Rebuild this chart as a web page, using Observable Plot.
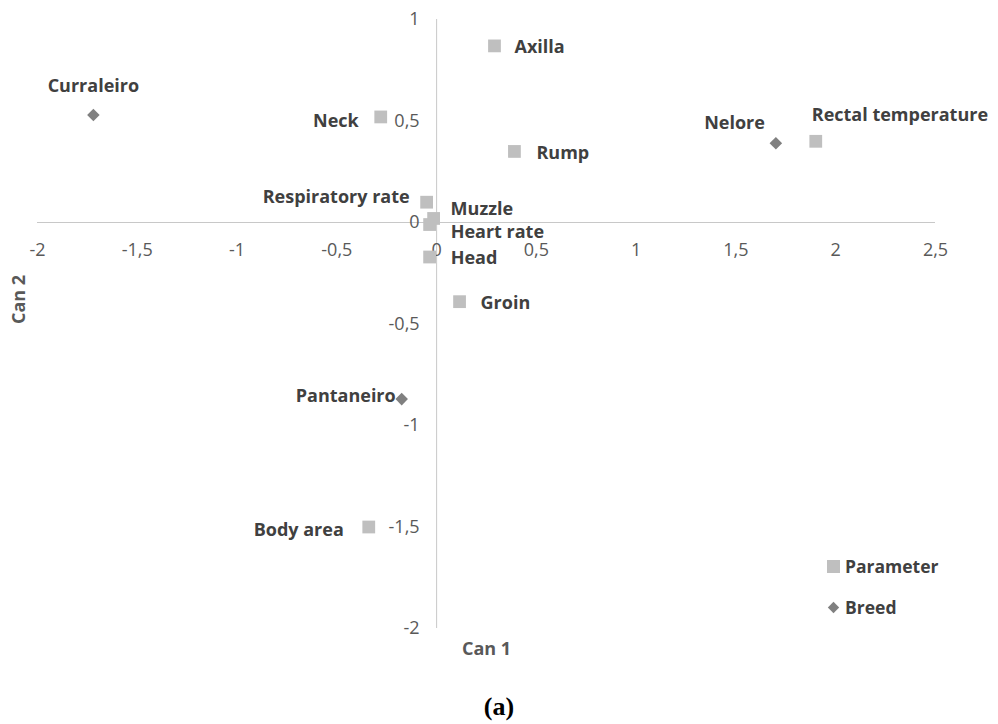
<!DOCTYPE html>
<html>
<head>
<meta charset="utf-8">
<script src="https://cdn.jsdelivr.net/npm/d3@7"></script>
<script src="https://cdn.jsdelivr.net/npm/@observablehq/plot@0.6"></script>
<style>
  html, body { margin: 0; padding: 0; background: #fff; }
  #wrap { position: relative; width: 998px; height: 724px; font-family: "Open Sans", sans-serif; }
  #chart { position: absolute; left: 0; top: 0; }
  .legend { position: absolute; left: 827px; font-weight: bold; font-size: 17.5px; color: #404040; display: flex; align-items: center; gap: 5px; }
  .caption { position: absolute; left: 0; width: 998px; text-align: center; top: 693px; line-height: 28px; font-family: "Liberation Serif", serif; font-weight: bold; font-size: 26px; color: #000; }
</style>
</head>
<body>
<div id="wrap">
  <div id="chart"></div>
  <div class="legend" style="top:554px"><svg width="13" height="13"><rect width="13" height="13" fill="#bfbfbf"/></svg>Parameter</div>
  <div class="legend" style="top:595px"><svg width="13" height="13"><rect x="2.5" y="2.5" width="8" height="8" fill="#808080" transform="rotate(45 6.5 6.5)"/></svg>Breed</div>
  <div class="caption">(<span>a</span>)</div>
</div>
<script>
// Parameters (squares)
const paramNames = ["Axilla", "Neck", "Rump", "Rectal temperature", "Respiratory rate", "Muzzle", "Heart rate", "Head", "Groin", "Body area"];
const paramCan1  = [0.29, -0.28, 0.39, 1.90, -0.05, -0.015, -0.035, -0.035, 0.115, -0.34];
const paramCan2  = [0.87, 0.52, 0.35, 0.40, 0.10, 0.02, -0.01, -0.17, -0.39, -1.50];

// Breeds (diamonds)
const breedNames = ["Curraleiro", "Nelore", "Pantaneiro"];
const breedCan1  = [-1.72, 1.70, -0.175];
const breedCan2  = [0.53, 0.39, -0.87];

// Axis ticks
const xTicks = [-2, -1.5, -1, -0.5, 0, 0.5, 1, 1.5, 2, 2.5];
const yTicks = [-2, -1.5, -1, -0.5, 0, 0.5, 1];

// Label placement (style only)
const labelPlace = {
  "Axilla": {anchor: "start", dx: 20, dy: 1},
  "Neck": {anchor: "end", dx: -22, dy: 4},
  "Rump": {anchor: "start", dx: 22, dy: 2},
  "Rectal temperature": {anchor: "start", dx: -4, dy: -26},
  "Respiratory rate": {anchor: "end", dx: -17, dy: -5},
  "Muzzle": {anchor: "start", dx: 17, dy: -9},
  "Heart rate": {anchor: "start", dx: 21, dy: 8},
  "Head": {anchor: "start", dx: 21, dy: 1},
  "Groin": {anchor: "start", dx: 21, dy: 2},
  "Body area": {anchor: "end", dx: -25, dy: 3},
  "Curraleiro": {anchor: "middle", dx: 0, dy: -29},
  "Nelore": {anchor: "end", dx: -11, dy: -20},
  "Pantaneiro": {anchor: "end", dx: -6, dy: -3}
};

const params = paramNames.map((n, i) => ({name: n, x: paramCan1[i], y: paramCan2[i]}));
const breeds = breedNames.map((n, i) => ({name: n, x: breedCan1[i], y: breedCan2[i]}));
const all = params.concat(breeds);

const fmt = d => String(d).replace(".", ",");

const labels = all.map(d => Plot.text([d], {
  x: "x", y: "y", text: "name",
  textAnchor: labelPlace[d.name].anchor,
  dx: labelPlace[d.name].dx, dy: labelPlace[d.name].dy,
  fill: "#404040", fontWeight: "bold", fontSize: 18
}));

const chart = Plot.plot({
  width: 998,
  height: 676,
  marginLeft: 37,
  marginRight: 63,
  marginTop: 19,
  marginBottom: 48,
  x: {domain: [-2, 2.5], axis: null},
  y: {domain: [-2, 1], axis: null},
  style: {fontFamily: "'Open Sans', sans-serif", background: "#fff"},
  marks: [
    Plot.ruleY([0], {x1: -2, x2: 2.5, stroke: "#c8c8c8", strokeWidth: 1}),
    Plot.ruleX([0], {y1: -2, y2: 1, stroke: "#c8c8c8", strokeWidth: 1}),
    Plot.text(xTicks, {x: d => d, y: 0, dy: 28, text: fmt, fill: "#595959", fontSize: 18}),
    Plot.text(yTicks, {x: 0, y: d => d, dx: -17, text: fmt, textAnchor: "end", fill: "#595959", fontSize: 18}),
    Plot.dot(params, {x: "x", y: "y", symbol: "square", r: 7.2, fill: "#bfbfbf"}),
    Plot.dot(breeds, {x: "x", y: "y", symbol: "square", r: 5.0, rotate: 45, fill: "#808080"}),
    ...labels,
    Plot.text(["Can 2"], {frameAnchor: "left", dx: -18, dy: 0, rotate: -90, fill: "#595959", fontWeight: "bold", fontSize: 18}),
    Plot.text(["Can 1"], {frameAnchor: "bottom", dx: 0, dy: 26, fill: "#595959", fontWeight: "bold", fontSize: 18})
  ]
});
document.getElementById("chart").appendChild(chart);
</script>
</body>
</html>
